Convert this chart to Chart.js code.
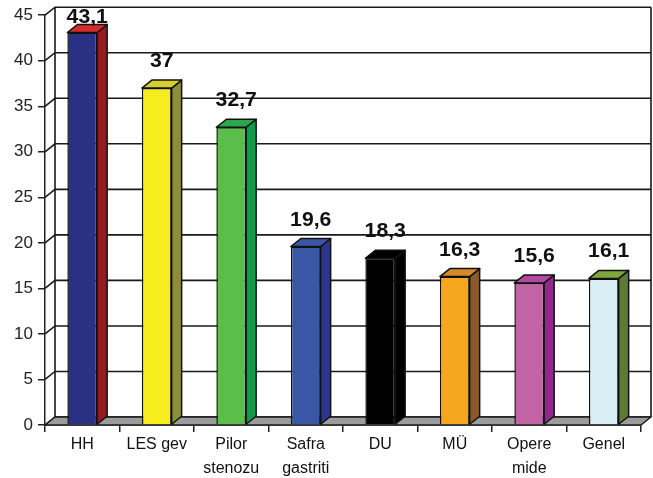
<!DOCTYPE html>
<html>
<head>
<meta charset="utf-8">
<script src="https://cdn.jsdelivr.net/npm/chart.js@4/dist/chart.umd.min.js"></script>
<style>
  html, body { margin: 0; padding: 0; background: #fff; }
  #wrap { width: 653px; height: 478px; }
</style>
</head>
<body>
<div id="wrap"><canvas id="chart" width="653" height="478"></canvas></div>
<script>
// Categories (multi-line where the label wraps) and values
const categories = [['HH'], ['LES gev'], ['Pilor', 'stenozu'], ['Safra', 'gastriti'], ['DU'], ['MÜ'], ['Opere', 'mide'], ['Genel']];
const values = [43.1, 37, 32.7, 19.6, 18.3, 16.3, 15.6, 16.1];
const yTicks = [0, 5, 10, 15, 20, 25, 30, 35, 40, 45];

// Face colours for each column: front, right side, top
const frontColors = ['#2A3185', '#F6EC1E', '#5BBE4B', '#3A57A6', '#000000', '#F7A620', '#C163A5', '#DAEEF5'];
const sideColors  = ['#931C22', '#8E8E3A', '#0E9A48', '#2C3590', '#000000', '#8C5A2A', '#93268F', '#5E7B36'];
const topColors   = ['#D52B2B', '#D6D02C', '#2BA84A', '#3A57A6', '#000000', '#D58A28', '#B24AA0', '#7EA83C'];

const DX = 10, DY = 8;   // depth offset of the 3D box
const FONT = '"Liberation Sans", Arial, Helvetica, sans-serif';

const poly = (ctx, pts, fill) => {
  ctx.beginPath();
  ctx.moveTo(pts[0][0], pts[0][1]);
  for (let k = 1; k < pts.length; k++) ctx.lineTo(pts[k][0], pts[k][1]);
  ctx.closePath();
  ctx.fillStyle = fill;
  ctx.fill();
  ctx.stroke();
};

// Back wall, left wall, floor, and the side/top faces of the columns
const box3d = {
  id: 'box3d',
  beforeDatasetsDraw(chart) {
    const { ctx, chartArea: a, scales: { y } } = chart;
    ctx.save();
    ctx.strokeStyle = '#1a1a1a';
    ctx.lineWidth = 1.6;
    yTicks.forEach(v => {
      const py = y.getPixelForValue(v);
      ctx.beginPath();
      ctx.moveTo(a.left, py);
      ctx.lineTo(a.left + DX, py - DY);
      ctx.lineTo(a.right + DX, py - DY);
      ctx.stroke();
    });
    ctx.beginPath();
    ctx.moveTo(a.left + DX, a.top - DY);
    ctx.lineTo(a.left + DX, a.bottom - DY);
    ctx.moveTo(a.right + DX, a.top - DY);
    ctx.lineTo(a.right + DX, a.bottom - DY);
    ctx.stroke();
    ctx.lineJoin = 'round';
    poly(ctx, [[a.left, a.bottom], [a.left + DX, a.bottom - DY], [a.right + DX, a.bottom - DY], [a.right, a.bottom]], '#9C9C9C');
    ctx.restore();
  },
  afterDatasetsDraw(chart) {
    const { ctx } = chart;
    const meta = chart.getDatasetMeta(0);
    ctx.save();
    ctx.strokeStyle = '#111';
    ctx.lineWidth = 1.5;
    ctx.lineJoin = 'round';
    meta.data.forEach((bar, i) => {
      const { x, y: top, base, width } = bar.getProps(['x', 'y', 'base', 'width'], true);
      const l = x - width / 2, r = x + width / 2;
      poly(ctx, [[r, top], [r + DX, top - DY], [r + DX, base - DY], [r, base]], sideColors[i]);
      poly(ctx, [[l, top], [l + DX, top - DY], [r + DX, top - DY], [r, top]], topColors[i]);

      // value label
      const txt = String(values[i]).replace('.', ',');
      const ly = Math.max(top - DY - 13, 23);
      ctx.save();
      ctx.translate(x + DX / 2, ly);
      ctx.scale(1.06, 1);
      ctx.font = 'bold 20px ' + FONT;
      ctx.fillStyle = '#111';
      ctx.textAlign = 'center';
      ctx.textBaseline = 'alphabetic';
      ctx.fillText(txt, 0, 0);
      ctx.restore();
    });
    ctx.restore();
  }
};

new Chart(document.getElementById('chart'), {
  type: 'bar',
  data: {
    labels: categories,
    datasets: [{
      data: values,
      backgroundColor: frontColors,
      borderColor: '#111',
      borderWidth: 1.5,
      categoryPercentage: 1,
      barPercentage: 0.4
    }]
  },
  options: {
    responsive: false,
    animation: false,
    layout: { padding: { left: 0, top: 15, right: 12, bottom: 0 } },
    plugins: {
      legend: { display: false },
      title: { display: false },
      tooltip: { enabled: false }
    },
    scales: {
      y: {
        min: 0,
        max: 45,
        afterFit: s => { s.width = 45; },
        afterBuildTicks: s => { s.ticks = yTicks.map(v => ({ value: v })); },
        ticks: { color: '#222', padding: 5, font: { family: FONT, size: 17 } },
        grid: { drawOnChartArea: false, drawTicks: true, tickLength: 7, color: '#222', lineWidth: 1.5 },
        border: { color: '#222', width: 1.5 }
      },
      x: {
        afterFit: s => { s.height = 53; },
        ticks: { color: '#111', padding: 1, maxRotation: 0, autoSkip: false, font: { family: FONT, size: 16, lineHeight: 1.5 } },
        grid: { drawOnChartArea: false, drawTicks: true, tickLength: 7, color: '#222', lineWidth: 1.5, offset: true },
        border: { color: '#222', width: 1.5 }
      }
    }
  },
  plugins: [box3d]
});
</script>
</body>
</html>
